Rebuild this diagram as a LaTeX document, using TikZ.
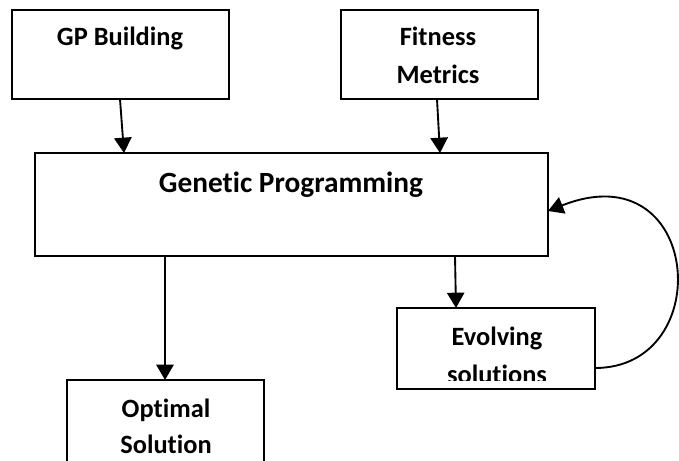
\documentclass[tikz,border=0pt]{standalone}
\usepackage{fontspec}
\setmainfont{Carlito}[RawFeature=-liga]
\usetikzlibrary{arrows.meta}
\begin{document}
\begin{tikzpicture}[x=0.75pt,y=-0.75pt,
  box/.style={draw,line width=1.4pt},
  lbl/.style={font=\bfseries\fontsize{19.8}{28}\selectfont,anchor=base,inner sep=0pt},
  biglbl/.style={font=\bfseries\fontsize{22}{28}\selectfont,anchor=base,inner sep=0pt},
  flow/.style={line width=1.4pt,-{Triangle[length=11.5pt,width=13pt]}}]
\useasboundingbox (0,0) rectangle (679,461);
\clip (0,0) rectangle (679,461);

% boxes
\draw[box] (12,10) rectangle (229,99);
\draw[box] (341,10) rectangle (538,99);
\draw[box] (35,153) rectangle (548,256);
\draw[box] (397,308) rectangle (595,389);
\draw[box] (67,380) rectangle (264,475);

% anchor points on the box edges
\coordinate (gpb) at (120,99);
\coordinate (gpbin) at (124,153);
\coordinate (fit) at (437,99);
\coordinate (fitin) at (440,153);
\coordinate (gpout) at (165,256);
\coordinate (optin) at (165,380);
\coordinate (gpevo) at (455,256);
\coordinate (evoin) at (456,308);
\coordinate (evoout) at (595,368);
\coordinate (gpback) at (548,211);

% labels
\node[lbl] (t1) at (120,45) {GP Building};
\node[lbl] (t2) at (438,45) {Fitness};
\node[lbl] (t3) at (438,83) {Metrics};
\node[biglbl] (t4) at (291,192) {Genetic Programming};
\node[lbl] (t5) at (166,417) {Optimal};
\node[lbl] (t6) at (166,453) {Solution};
\node[lbl] (t7) at (497,345) {Evolving};
\begin{scope}
  \clip (397,300) rectangle (595,380);
  \node[lbl] (t8) at (497,383) {solutions};
\end{scope}

% connectors
\draw[flow] (gpb) -- (gpbin);
\draw[flow] (fit) -- (fitin);
\draw[flow] (gpout) -- (optin);
\draw[flow] (gpevo) -- (evoin);
\draw[flow] (evoout) .. controls (718,368) and (702,150) .. (gpback);
\end{tikzpicture}
\end{document}
